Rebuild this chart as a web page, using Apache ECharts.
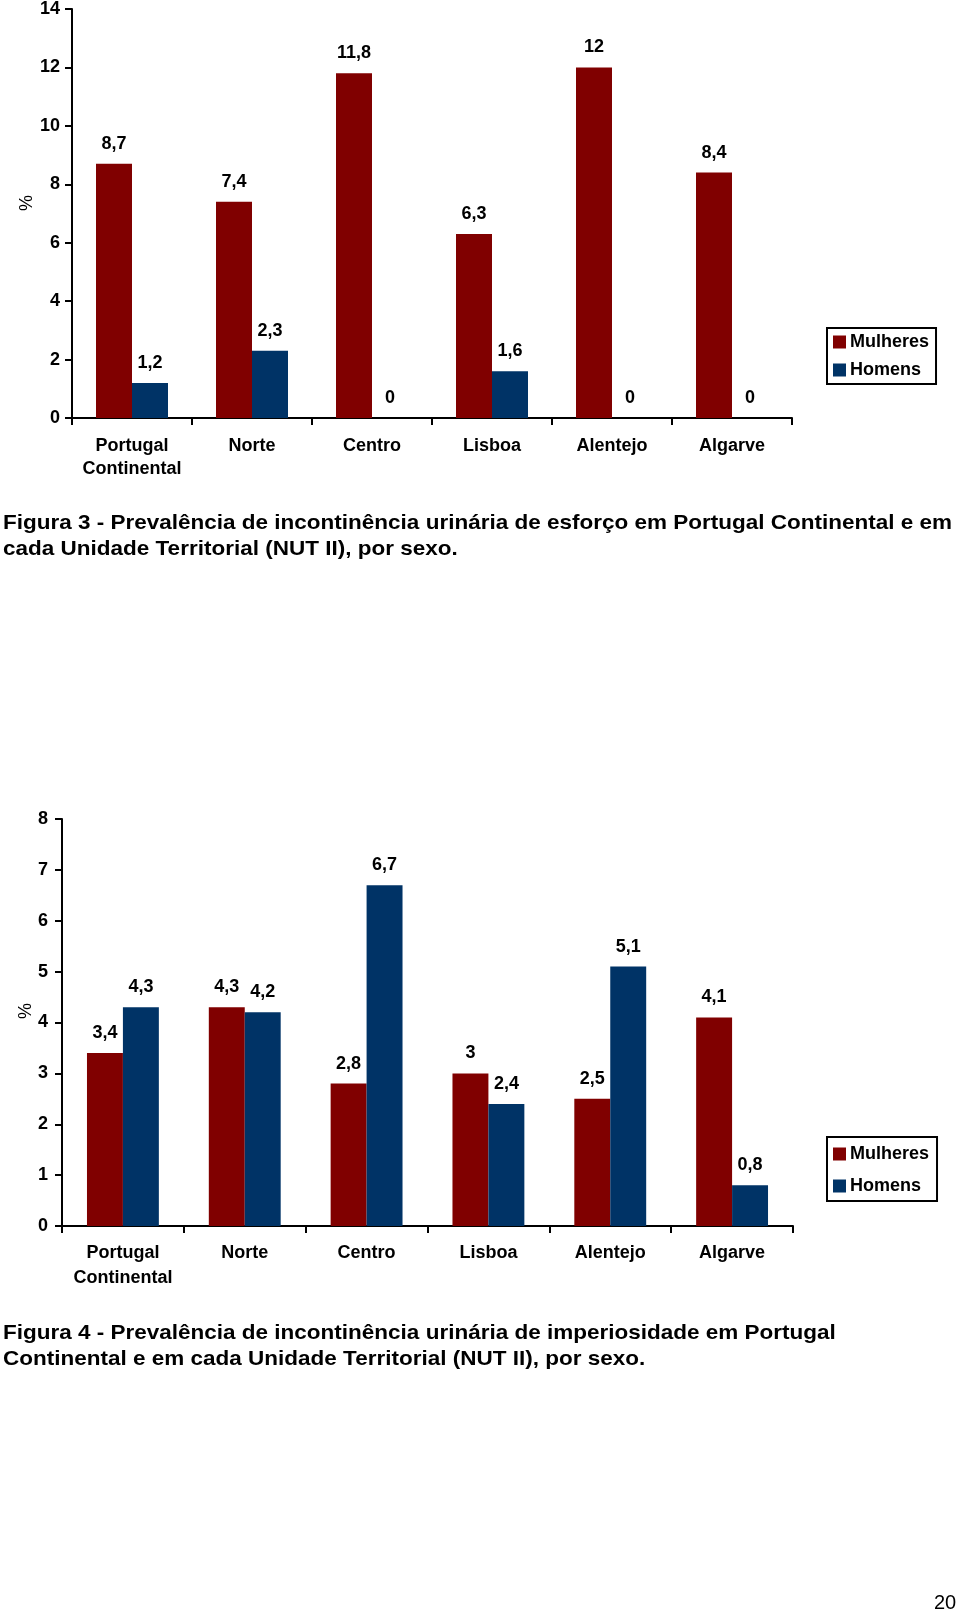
<!DOCTYPE html>
<html>
<head>
<meta charset="utf-8">
<script src="https://cdn.jsdelivr.net/npm/echarts@6/dist/echarts.min.js"></script>
<style>
html,body{margin:0;padding:0;background:#fff;}
#c{width:960px;height:1613px;}
</style>
</head>
<body>
<div id="c"></div>
<script>
// ---- data ----
const categories = ['Portugal\nContinental', 'Norte', 'Centro', 'Lisboa', 'Alentejo', 'Algarve'];
const seriesNames = ['Mulheres', 'Homens'];
// Figura 3 - esforço
const esforcoMulheres = [8.7, 7.4, 11.8, 6.3, 12, 8.4];
const esforcoHomens = [1.2, 2.3, 0, 1.6, 0, 0];
// Figura 4 - imperiosidade
const imperMulheres = [3.4, 4.3, 2.8, 3, 2.5, 4.1];
const imperHomens = [4.3, 4.2, 6.7, 2.4, 5.1, 0.8];
const yTitle = '%';
const caption3 = ['Figura 3 - Prevalência de incontinência urinária de esforço em Portugal Continental e em',
                  'cada Unidade Territorial (NUT II), por sexo.'];
const caption4 = ['Figura 4 - Prevalência de incontinência urinária de imperiosidade em Portugal',
                  'Continental e em cada Unidade Territorial (NUT II), por sexo.'];
const pageNumber = '20';

// ---- styles ----
const RED = '#800000', BLUE = '#003366';
const FONT = "'Liberation Sans', Arial, sans-serif";
const CAP_FONT = "bold 20.5px 'Liberation Sans', Arial, sans-serif";

function fitScale(text, font, target) {
  const ctx = document.createElement('canvas').getContext('2d');
  ctx.font = font;
  return target / ctx.measureText(text).width;
}
const capScale = fitScale(caption3[0], CAP_FONT, 949);

const fmt = p => String(p.value).replace('.', ',');
const axisLineStyle = {color: '#000', width: 2};

function xAxisCfg(gi, fs, lh, margin) {
  return {
    type: 'category', gridIndex: gi, data: categories,
    axisLine: {lineStyle: axisLineStyle},
    axisTick: {show: true, length: 7, lineStyle: axisLineStyle, alignWithLabel: false},
    axisLabel: {color: '#000', fontFamily: FONT, fontWeight: 'bold', fontSize: fs, lineHeight: lh, margin: margin, interval: 0}
  };
}
function yAxisCfg(gi, max, margin) {
  return {
    type: 'value', gridIndex: gi, min: 0, max: max, interval: max === 14 ? 2 : 1,
    axisLine: {show: true, lineStyle: axisLineStyle},
    axisTick: {show: true, length: 7, lineStyle: axisLineStyle},
    axisLabel: {color: '#000', fontFamily: FONT, fontWeight: 'bold', fontSize: 18, margin: margin},
    splitLine: {show: false}
  };
}
function barSeries(name, data, gi, color, gap) {
  return {
    type: 'bar', name: name, data: data, xAxisIndex: gi, yAxisIndex: gi,
    barGap: '0%', barCategoryGap: gap,
    itemStyle: {color: color},
    label: {show: true, position: 'top', distance: 11, formatter: fmt,
            color: '#000', fontFamily: FONT, fontWeight: 'bold', fontSize: 18},
    emphasis: {disabled: true}, animation: false
  };
}
function legendCfg(left, top, gap, pad) {
  return {
    orient: 'vertical', left: left, top: top, data: seriesNames,
    icon: 'rect', itemWidth: 13, itemHeight: 13, itemGap: gap,
    padding: pad, borderColor: '#000', borderWidth: 2, backgroundColor: '#fff',
    textStyle: {color: '#000', fontFamily: FONT, fontWeight: 'bold', fontSize: 18, padding: [0, 0, 0, -1]},
    selectedMode: false
  };
}
function capText(txt, y) {
  return {type: 'text', x: 3, y: y, scaleX: capScale,
          style: {text: txt, font: CAP_FONT, fill: '#000', textVerticalAlign: 'middle'}};
}
function yTitleText(x, y) {
  return {type: 'text', x: x, y: y, rotation: Math.PI / 2,
          style: {text: yTitle, font: "18px " + FONT, fill: '#000', textAlign: 'center', textVerticalAlign: 'middle'}};
}

const chart = echarts.init(document.getElementById('c'), null, {renderer: 'canvas'});
chart.setOption({
  animation: false,
  backgroundColor: '#fff',
  grid: [
    {left: 72, top: 8, width: 720, height: 410, containLabel: false},
    {left: 62, top: 819, width: 731, height: 407, containLabel: false}
  ],
  xAxis: [xAxisCfg(0, 18, 23, 17), xAxisCfg(1, 18, 25, 15)],
  yAxis: [yAxisCfg(0, 14, 12), yAxisCfg(1, 8, 14)],
  legend: [legendCfg(827, 328, 10, [5, 7, 5, 6]), legendCfg(827, 1137, 14, [8, 8, 6, 6])],
  series: [
    barSeries(seriesNames[0], esforcoMulheres, 0, RED, '40%'),
    barSeries(seriesNames[1], esforcoHomens, 0, BLUE, '40%'),
    barSeries(seriesNames[0], imperMulheres, 1, RED, '41%'),
    barSeries(seriesNames[1], imperHomens, 1, BLUE, '41%')
  ],
  graphic: [
    yTitleText(27, 203), yTitleText(26, 1011),
    capText(caption3[0], 523), capText(caption3[1], 549),
    capText(caption4[0], 1333), capText(caption4[1], 1359),
    {type: 'text', x: 945, y: 1603, style: {text: pageNumber, font: "20px " + FONT, fill: '#000', textAlign: 'center', textVerticalAlign: 'middle'}}
  ]
});
</script>
</body>
</html>
